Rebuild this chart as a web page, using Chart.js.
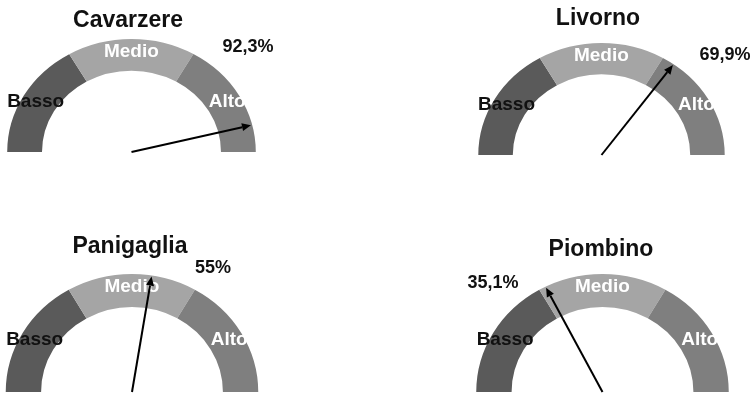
<!DOCTYPE html>
<html lang="it">
<head>
<meta charset="utf-8">
<title>Indicatori terminali</title>
<script src="https://cdn.jsdelivr.net/npm/chart.js@4.4.1/dist/chart.umd.min.js"></script>
<style>
  html, body { margin: 0; padding: 0; background: #fff; }
  #wrap { position: relative; width: 755px; height: 395px; overflow: hidden; }
  #wrap canvas { position: absolute; }
</style>
</head>
<body>
<div id="wrap"></div>
<script>
// dati dei quattro indicatori
const terminali = ['Cavarzere', 'Livorno', 'Panigaglia', 'Piombino'];
const valori = [92.3, 69.9, 55, 35.1];
const etichetteValori = ['92,3%', '69,9%', '55%', '35,1%'];
const fasce = ['Basso', 'Medio', 'Alto'];
const ampiezzeFasce = [33.3, 33.3, 33.4];
const coloriFasce = ['#5a5a5a', '#a5a5a5', '#7f7f7f'];
const coloriTestoFasce = ['#111111', '#ffffff', '#ffffff'];

// posizione di ogni quadrante nella pagina (canvas, centro, raggio, allungamento)
const riquadri = [
  { left: 0,   top: 0,   w: 378, h: 200, cx: 131.5, cy: 152, r: 113, sx: 1.1,  titoloX: 128, titoloY: 27,  valX: 248, valY: 47 },
  { left: 378, top: 0,   w: 377, h: 200, cx: 601.5, cy: 155, r: 112, sx: 1.1,  titoloX: 598, titoloY: 25,  valX: 725, valY: 55 },
  { left: 0,   top: 200, w: 378, h: 195, cx: 132,   cy: 392, r: 118, sx: 1.07, titoloX: 130, titoloY: 253, valX: 213, valY: 268 },
  { left: 378, top: 200, w: 377, h: 195, cx: 602.5, cy: 392, r: 118, sx: 1.07, titoloX: 601, titoloY: 256, valX: 493, valY: 283 }
];

const FONT = '"Liberation Sans", Arial, Helvetica, sans-serif';

// allunga l'arco in orizzontale, poi disegna etichette, freccia e titolo
const quadrante = {
  id: 'quadrante',
  beforeDatasetsDraw(chart, args, opts) {
    const arc = chart.getDatasetMeta(0).data[0];
    const ctx = chart.ctx;
    ctx.save();
    ctx.translate(arc.x, arc.y);
    ctx.scale(opts.sx, 1);
    ctx.translate(-arc.x, -arc.y);
  },
  afterDatasetsDraw(chart) {
    chart.ctx.restore();
  },
  afterDraw(chart, args, opts) {
    const ctx = chart.ctx;
    const elementi = chart.getDatasetMeta(0).data;
    const cx = elementi[0].x, cy = elementi[0].y;
    const R = elementi[0].outerRadius;

    // nomi delle fasce al centro di ogni settore
    ctx.save();
    ctx.font = 'bold 19px ' + FONT;
    ctx.textAlign = 'center';
    ctx.textBaseline = 'middle';
    elementi.forEach((el, i) => {
      const mid = (el.startAngle + el.endAngle) / 2;
      const px = cx + Math.cos(mid) * R * 0.89 * opts.sx;
      const py = cy + Math.sin(mid) * R * 0.89;
      ctx.fillStyle = coloriTestoFasce[i];
      ctx.fillText(fasce[i], px, py);
    });
    ctx.restore();

    // lancetta
    const ang = Math.PI * (1 - opts.valore / 100);
    const L = R * 0.99;
    const x1 = cx + Math.cos(ang) * L * opts.sx;
    const y1 = cy - Math.sin(ang) * L;
    const dx = x1 - cx, dy = y1 - cy;
    const len = Math.hypot(dx, dy);
    const ux = dx / len, uy = dy / len;
    const testa = 9, mezza = 4;
    ctx.save();
    ctx.strokeStyle = '#000';
    ctx.fillStyle = '#000';
    ctx.lineWidth = 2;
    ctx.beginPath();
    ctx.moveTo(cx, cy);
    ctx.lineTo(x1 - ux * testa, y1 - uy * testa);
    ctx.stroke();
    ctx.beginPath();
    ctx.moveTo(x1, y1);
    ctx.lineTo(x1 - ux * testa - uy * mezza, y1 - uy * testa + ux * mezza);
    ctx.lineTo(x1 - ux * testa + uy * mezza, y1 - uy * testa - ux * mezza);
    ctx.closePath();
    ctx.fill();
    ctx.restore();

    // titolo e valore
    ctx.save();
    ctx.fillStyle = '#111';
    ctx.textAlign = 'center';
    ctx.textBaseline = 'alphabetic';
    ctx.font = 'bold 23px ' + FONT;
    ctx.fillText(opts.titolo, opts.titoloX, opts.titoloY);
    ctx.textBaseline = 'middle';
    ctx.font = 'bold 18px ' + FONT;
    ctx.fillText(opts.etichetta, opts.valX, opts.valY);
    ctx.restore();
  }
};

const wrap = document.getElementById('wrap');

terminali.forEach((nome, i) => {
  const q = riquadri[i];
  const canvas = document.createElement('canvas');
  canvas.width = q.w;
  canvas.height = q.h;
  canvas.style.left = q.left + 'px';
  canvas.style.top = q.top + 'px';
  wrap.appendChild(canvas);

  const cxl = q.cx - q.left, cyl = q.cy - q.top;

  new Chart(canvas, {
    type: 'doughnut',
    data: {
      labels: fasce,
      datasets: [{
        data: ampiezzeFasce,
        backgroundColor: coloriFasce,
        borderWidth: 0,
        hoverOffset: 0,
        offset: 0,
        clip: false
      }]
    },
    options: {
      responsive: false,
      animation: false,
      events: [],
      rotation: -90,
      circumference: 180,
      cutout: '72%',
      layout: {
        padding: {
          left: cxl - q.r,
          right: q.w - (cxl + q.r),
          top: cyl - q.r,
          bottom: q.h - cyl
        }
      },
      plugins: {
        legend: { display: false },
        tooltip: { enabled: false },
        quadrante: {
          sx: q.sx,
          valore: valori[i],
          titolo: nome,
          etichetta: etichetteValori[i],
          titoloX: q.titoloX - q.left,
          titoloY: q.titoloY - q.top,
          valX: q.valX - q.left,
          valY: q.valY - q.top
        }
      }
    },
    plugins: [quadrante]
  });
});
</script>
</body>
</html>
